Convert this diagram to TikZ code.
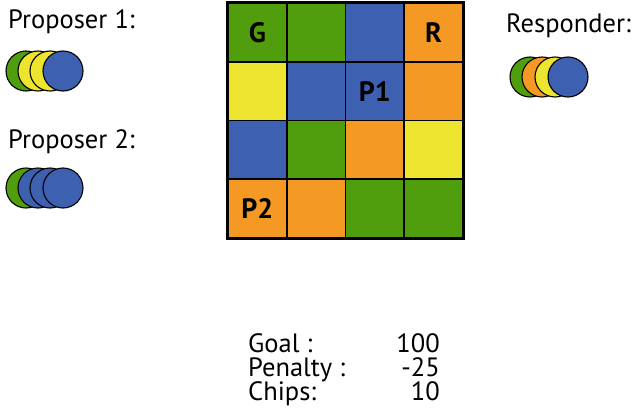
\documentclass[tikz,border=0pt]{standalone}
\usepackage{fontspec}
\setmainfont{PT Sans}
\usepackage{tikz}

\definecolor{cgreen}{RGB}{80,158,14}
\definecolor{cblue}{RGB}{62,96,176}
\definecolor{corange}{RGB}{244,154,36}
\definecolor{cyellow}{RGB}{236,228,46}

\tikzset{
  cell/.style={draw=black, line width=1.6pt, minimum size=58.75pt, inner sep=0pt, font=\bfseries\fontsize{28}{28}\selectfont},
  chip/.style={draw=black, line width=1.1pt, circle, minimum size=40pt, inner sep=0pt},
  lbl/.style={font=\fontsize{26.5}{28}\selectfont, inner sep=0pt}
}

\begin{document}
\begin{tikzpicture}[x=1pt, y=-1pt]
\useasboundingbox (0,0) rectangle (637,420);

%players
\path (8,28.5) node[lbl, anchor=base west] (prop1) {Proposer 1:};
\path (8,148) node[lbl, anchor=base west] (prop2) {Proposer 2:};
\path (506,33) node[lbl, anchor=base west] (resp) {Responder:};

%chips of proposer 1
\node[chip, fill=cgreen] (p1a) at (26,71) {};
\node[chip, fill=cyellow] (p1b) at (38,71) {};
\node[chip, fill=cyellow] (p1c) at (50,71) {};
\node[chip, fill=cblue] (p1d) at (63,71) {};

%chips of proposer 2
\node[chip, fill=cgreen] (p2a) at (26,188) {};
\node[chip, fill=cblue] (p2b) at (38,188) {};
\node[chip, fill=cblue] (p2c) at (50,188) {};
\node[chip, fill=cblue] (p2d) at (63,188) {};

%chips of responder
\node[chip, fill=cgreen] (ra) at (530,77) {};
\node[chip, fill=corange] (rb) at (542,77) {};
\node[chip, fill=cyellow] (rc) at (555,77) {};
\node[chip, fill=cblue] (rd) at (568,77) {};

%board
\node[cell, fill=cgreen] (c00) at (257.4,32.4) {G};
\node[cell, fill=cgreen] (c01) at (316.1,32.4) {};
\node[cell, fill=cblue] (c02) at (374.9,32.4) {};
\node[cell, fill=corange] (c03) at (433.6,32.4) {R};

\node[cell, fill=cyellow] (c10) at (257.4,91.1) {};
\node[cell, fill=cblue] (c11) at (316.1,91.1) {};
\node[cell, fill=cblue] (c12) at (374.9,91.1) {P1};
\node[cell, fill=corange] (c13) at (433.6,91.1) {};

\node[cell, fill=cblue] (c20) at (257.4,149.9) {};
\node[cell, fill=cgreen] (c21) at (316.1,149.9) {};
\node[cell, fill=corange] (c22) at (374.9,149.9) {};
\node[cell, fill=cyellow] (c23) at (433.6,149.9) {};

\node[cell, fill=corange] (c30) at (257.4,208.6) {P2};
\node[cell, fill=corange] (c31) at (316.1,208.6) {};
\node[cell, fill=cgreen] (c32) at (374.9,208.6) {};
\node[cell, fill=cgreen] (c33) at (433.6,208.6) {};
\draw[line width=2.2pt] (c00.north west) rectangle (c33.south east);

%scores
\path (248,352) node[lbl, anchor=base west] (goal) {Goal :};
\path (248,376) node[lbl, anchor=base west] (pen) {Penalty :};
\path (248,400) node[lbl, anchor=base west] (chips) {Chips:};
\path (440,352) node[lbl, anchor=base east] (goalv) {100};
\path (440,376) node[lbl, anchor=base east] (penv) {-25};
\path (440,400) node[lbl, anchor=base east] (chipsv) {10};
\end{tikzpicture}
\end{document}
